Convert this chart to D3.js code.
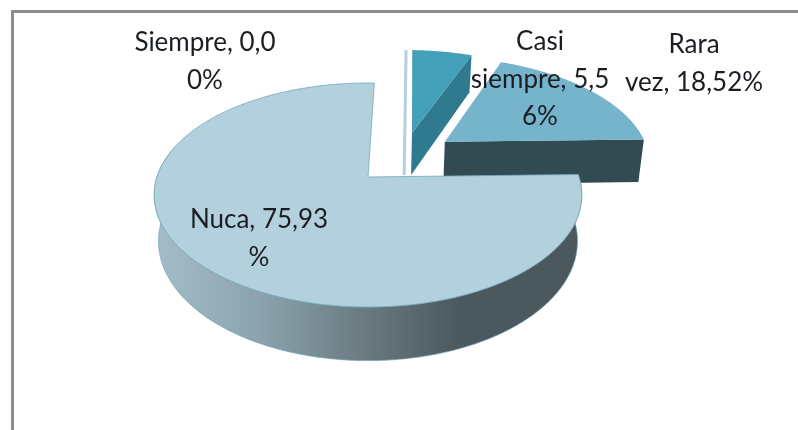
<!DOCTYPE html>
<html><head><meta charset="utf-8">
<script src="https://cdn.jsdelivr.net/npm/d3@7"></script>
<style>html,body{margin:0;padding:0;background:#fff;overflow:hidden}svg{display:block}</style>
</head><body><div id="c"></div>
<script>
const categories = ["Siempre","Casi siempre","Rara vez","Nuca"];
const values = [0, 5.56, 18.52, 75.93];
const labelLines = [["Siempre, 0,0","0%"],["Casi","siempre, 5,5","6%"],["Rara","vez, 18,52%"],["Nuca, 75,93","%"]];
const topColors = ["#b3d1dd","#44a0b8","#76b4cb","#b3d1dd"];
const sideColors = ["#b3d1dd","#2f7a8e","#324a52","url(#wall)"];
const explodeA = [0.187,0.223,0.384,0];
const explodeB = [-0.4315,-0.4315,-0.34,0];
const labelX = [205,540,694,259];
const labelY = [42,41,44,219];

const W=798,Hh=430,cx=368,cy=177,rx=211,ry=109.1,k=0.1607,depth=45,narrow=0.02;
const svg=d3.select("#c").append("svg").attr("width",W).attr("height",Hh);
const defs=svg.append("defs");
const g=defs.append("linearGradient").attr("id","wall").attr("gradientUnits","userSpaceOnUse")
  .attr("x1",153).attr("x2",581).attr("y1",0).attr("y2",0);
[[0,"#a4bdc8"],[0.25,"#8ba3ae"],[0.5,"#69797f"],[0.72,"#4b585e"],[1,"#4b585e"]]
  .forEach(s=>g.append("stop").attr("offset",s[0]).attr("stop-color",s[1]));
defs.append("filter").attr("id","soft").append("feGaussianBlur").attr("stdDeviation",0.45);

svg.append("path").attr("d",`M${W},11.5H12.5V${Hh}`).attr("fill","none").attr("stroke","#8c8c8c").attr("stroke-width",3);

const rot=2*Math.PI/180;
const pie=d3.pie().sort(null).startAngle(rot).endAngle(rot+2*Math.PI);
const arcs=pie(values);
const line=d3.line();
function P(a,b,z){const w=1-k*b;return [cx+rx*(1-narrow*z)*a/w, cy+ry*b/w+depth*z/w];}
function rim(ang,i,z){return P(Math.sin(ang)+explodeA[i],-Math.cos(ang)+explodeB[i],z);}
function arcPts(a0,a1,i,z){const n=Math.max(2,Math.ceil(Math.abs(a1-a0)/0.01));
  return d3.range(n+1).map(j=>rim(a0+(a1-a0)*j/n,i,z));}
const apex=(i,z)=>P(explodeA[i],explodeB[i],z);

const root=svg.append("g");
// Siempre: zero-angle slice seen edge on
root.append("path").attr("d",line([rim(arcs[0].startAngle,0,0),apex(0,1)]))
  .attr("stroke",topColors[0]).attr("stroke-width",3).attr("fill","none");
// Casi and Rara: radial wall then top
[1,2].forEach(i=>{const a=arcs[i];
  root.append("path").attr("d",line([apex(i,0),rim(a.endAngle,i,0),rim(a.endAngle,i,1),apex(i,1)])+"Z")
    .attr("fill",sideColors[i]);
  root.append("path").attr("d",line([apex(i,0),...arcPts(a.startAngle,a.endAngle,i,0)])+"Z")
    .attr("fill",topColors[i]);
});
// Nuca: curved wall then top
const n=arcs[3];
const wallEnd=Math.PI*1.6;
root.append("path").attr("d",line([...arcPts(n.startAngle,wallEnd,3,0),...arcPts(wallEnd,n.startAngle,3,1)])+"Z")
  .attr("fill",sideColors[3]).attr("stroke","#6fa3b4").attr("stroke-width",0.7);
root.append("path").attr("d",line([apex(3,0),...arcPts(n.startAngle,n.endAngle,3,0)])+"Z")
  .attr("fill",topColors[3]).attr("stroke","#6fa8ba").attr("stroke-width",0.8);

const t=svg.append("g").attr("font-family","Lato, 'Open Sans', sans-serif").attr("font-size",26)
  .attr("fill","#1a1f22").attr("text-anchor","middle").attr("filter","url(#soft)");
labelLines.forEach((ls,i)=>ls.forEach((s,j)=>{
  t.append("text").attr("x",labelX[i]).attr("y",labelY[i]+37.5*j+9).text(s);
}));
</script></body></html>
